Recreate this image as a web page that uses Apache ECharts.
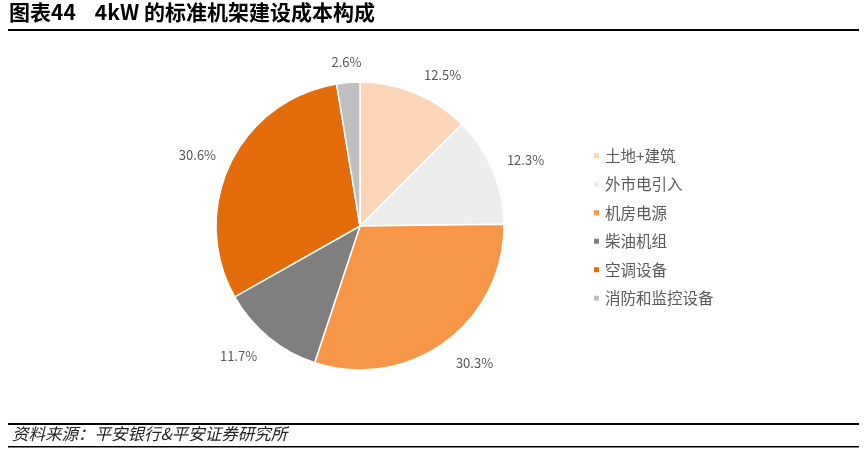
<!DOCTYPE html>
<html><head><meta charset="utf-8">
<script src="https://cdn.jsdelivr.net/npm/echarts@6/dist/echarts.min.js"></script>
<style>html,body{margin:0;padding:0;background:#fff}#c{width:867px;height:451px}</style>
</head><body><div id="c"></div>
<script>
const categories = ['土地+建筑','外市电引入','机房电源','柴油机组','空调设备','消防和监控设备'];
const values = [12.5, 12.3, 30.3, 11.7, 30.6, 2.6];
const colors = ['#FBD5B5','#EDEDED','#F79646','#7F7F7F','#E46C0A','#BFBFBF'];
const titleText = '图表44    4kW 的标准机架建设成本构成';
const sourceText = '资料来源：平安银行&平安证券研究所';

const PIE_CENTER = [360, 226];
const chart = echarts.init(document.getElementById('c'));
chart.setOption({
  animation: false,
  color: colors,
  legend: {
    orient: 'vertical',
    left: 592, top: 148, padding: 0,
    itemWidth: 7, itemHeight: 7, itemGap: 13,
    icon: 'rect',
    textStyle: {fontFamily: 'Noto Sans CJK SC', fontSize: 15.5, color: '#595959'},
    data: categories.map((c,i)=>({name:c, itemStyle:{color:colors[i]}}))
  },
  graphic: [
    {type:'text', left: 9, top: 2, style:{text: titleText, font: 'bold 21px "Noto Sans CJK SC"', fill:'#000'}},
    {type:'rect', shape:{x:8,y:29,width:851,height:2}, style:{fill:'#000'}},
    {type:'rect', shape:{x:8,y:423,width:851,height:2}, style:{fill:'#000'}},
    {type:'text', left: 12, top: 425, style:{text: sourceText, font: 'italic 16.5px "Noto Sans CJK SC"', fill:'#222'}},
    {type:'rect', shape:{x:8,y:446,width:851,height:1.5}, style:{fill:'#000'}}
  ],
  series: [{
    type: 'pie',
    center: PIE_CENTER,
    radius: [0, 144],
    startAngle: 90,
    clockwise: true,
    itemStyle: {borderColor: '#fff', borderWidth: 1.5},
    label: {
      show: true, position: 'outside',
      formatter: p => p.value.toFixed(1) + '%',
      fontFamily: 'Noto Sans CJK SC', fontSize: 13, color: '#595959'
    },
    labelLine: {show: false, length: 10, length2: 0},
    labelLayout: function (p) {
      const r = p.rect;
      let ux = r.x + r.width / 2 - PIE_CENTER[0];
      let uy = r.y + r.height / 2 - PIE_CENTER[1];
      const n = Math.hypot(ux, uy) || 1;
      ux /= n; uy /= n;
      const out = {dy: uy > 0 ? 15 * uy : 11 * uy};
      if (Math.abs(ux) < 0.3) {
        out.dx = (ux < 0 ? 1 : -1) * (p.labelRect.width / 2 + 4);
      }
      return out;
    },
    emphasis: {disabled: true},
    data: categories.map((c,i)=>({name:c, value: values[i]}))
  }]
});
</script></body></html>
